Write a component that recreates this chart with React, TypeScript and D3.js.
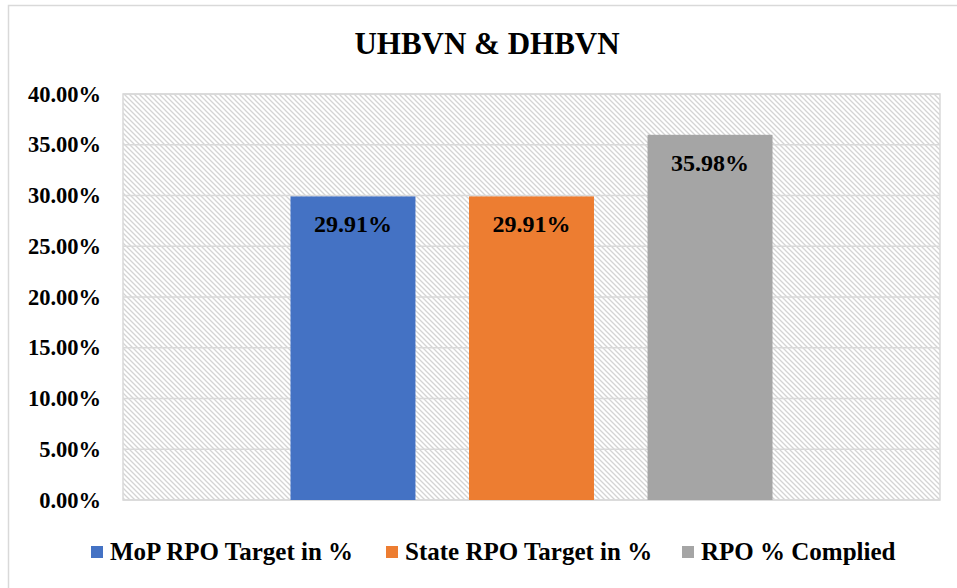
import React from "react";
import * as d3 from "d3";

const title = "UHBVN & DHBVN";
const categories = ["UHBVN & DHBVN"];
const seriesNames = ["MoP RPO Target in %", "State RPO Target in %", "RPO % Complied"];
const seriesValues = [0.2991, 0.2991, 0.3598];
const seriesColors = ["#4472C4", "#ED7D31", "#A5A5A5"];
const yTicks = [0, 0.05, 0.1, 0.15, 0.2, 0.25, 0.3, 0.35, 0.4];

const W = 957;
const H = 588;
const FONT = "'Liberation Serif', 'Times New Roman', serif";

export default function App() {
  const left = 123, right = 940, top = 94, bottom = 500;
  const y = d3.scaleLinear().domain([0, 0.4]).range([bottom, top]);
  const x0 = d3.scaleBand<string>().domain(categories).range([left, right]).paddingInner(0).paddingOuter(0.3475);
  const x1 = d3.scaleBand<string>().domain(seriesNames).range([0, x0.bandwidth()]).paddingInner(0.3).paddingOuter(0);
  const fmt = d3.format(".2%");
  const legendX = [91, 386, 682];

  return (
    <svg width={W} height={H} style={{ position: "absolute", left: 0, top: 0, background: "#fff" }}>
      <defs>
        <pattern id="hatch" patternUnits="userSpaceOnUse" width="5" height="5">
          <rect width="5" height="5" fill="#ffffff" />
          <path d="M-1,-1 L6,6 M-1,4 L1,6 M4,-1 L6,1" stroke="#d4d4d4" strokeWidth="1.3" />
        </pattern>
      </defs>
      <rect x={8.5} y={5.5} width={W + 10} height={H + 10} fill="#fff" stroke="#d9d9d9" strokeWidth={1.5} />
      <text x={487} y={54} textAnchor="middle" fontFamily={FONT} fontWeight="bold" fontSize={31} fill="#000">{title}</text>
      <rect x={left} y={top} width={right - left} height={bottom - top} fill="url(#hatch)" />
      {yTicks.map((t) => (
        <g key={t}>
          <line x1={left} x2={right} y1={y(t)} y2={y(t)} stroke="#d9d9d9" strokeWidth={1.5} />
          <text x={101} y={y(t) + 7.5} textAnchor="end" fontFamily={FONT} fontWeight="bold" fontSize={22.5} fill="#000">{fmt(t)}</text>
        </g>
      ))}
      <rect x={left} y={top} width={right - left} height={bottom - top} fill="none" stroke="#d9d9d9" strokeWidth={1.5} />
      {categories.map((c) => (
        <g key={c} transform={`translate(${x0(c)},0)`}>
          {seriesNames.map((s, i) => (
            <g key={s}>
              <rect x={x1(s)} y={y(seriesValues[i])} width={x1.bandwidth()} height={y(0) - y(seriesValues[i])} fill={seriesColors[i]} />
              <text x={(x1(s) as number) + x1.bandwidth() / 2} y={y(seriesValues[i]) + 36} textAnchor="middle" fontFamily={FONT} fontWeight="bold" fontSize={24} fill="#000">{fmt(seriesValues[i])}</text>
            </g>
          ))}
        </g>
      ))}
      {seriesNames.map((s, i) => (
        <g key={s} transform={`translate(${legendX[i]},0)`}>
          <rect x={0} y={546} width={12} height={12} fill={seriesColors[i]} />
          <text x={19} y={560} fontFamily={FONT} fontWeight="bold" fontSize={25} fill="#000">{s}</text>
        </g>
      ))}
    </svg>
  );
}
